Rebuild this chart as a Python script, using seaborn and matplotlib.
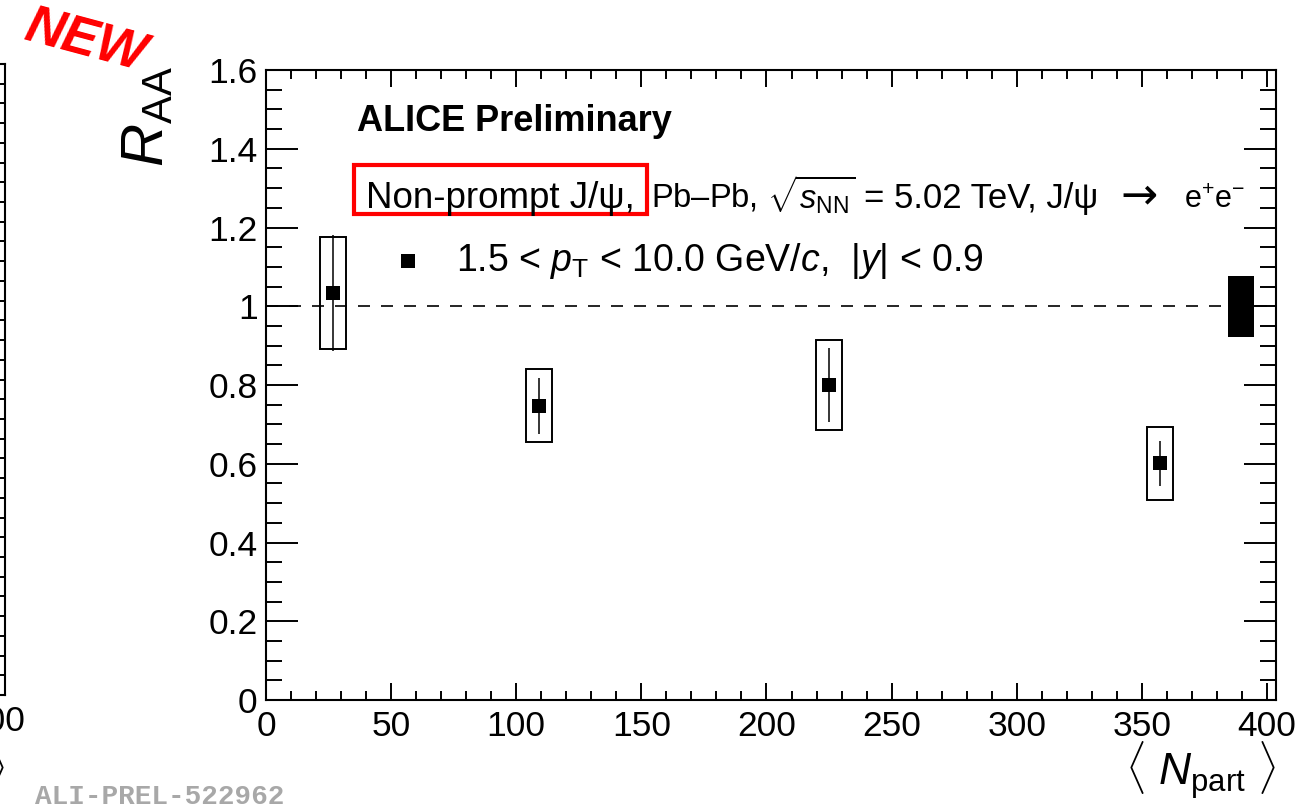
import numpy as np
import pandas as pd
import matplotlib
matplotlib.use("Agg")
import matplotlib.pyplot as plt
import seaborn as sns
from matplotlib.patches import Rectangle
from matplotlib.ticker import MultipleLocator

# ---------------- data ----------------
npart = [26.9, 109.0, 224.8, 357.2]
raa = [1.034, 0.747, 0.800, 0.601]
stat_err = [0.148, 0.071, 0.093, 0.057]
syst_err = [0.143, 0.093, 0.115, 0.092]
global_x = [389.7]
global_unc = [0.078]
xtick_vals = [0, 50, 100, 150, 200, 250, 300, 350, 400]
xtick_labels = ["0", "50", "100", "150", "200", "250", "300", "350", "400"]
ytick_vals = [0, 0.2, 0.4, 0.6, 0.8, 1.0, 1.2, 1.4, 1.6]
ytick_labels = ["0", "0.2", "0.4", "0.6", "0.8", "1", "1.2", "1.4", "1.6"]

legend_label = r"1.5 < $p_{\rm T}$ < 10.0 GeV/$c$,  |$y$| < 0.9"
header_boxed = "Non-prompt J/ψ,"
header_system = r"Pb–Pb, $\sqrt{s_{\rm NN}}$"
header_energy = "= 5.02 TeV, J/ψ"
header_arrow = "→"
header_decay = r"e$^{+}$e$^{-}$"

df = pd.DataFrame({"npart": npart, "raa": raa, "stat": stat_err, "syst": syst_err})

# ---------------- style ----------------
sns.set_theme(style="ticks")
plt.rcParams["font.family"] = ["Liberation Sans", "DejaVu Sans"]
plt.rcParams["mathtext.fontset"] = "custom"
plt.rcParams["mathtext.rm"] = "Liberation Sans"
plt.rcParams["mathtext.it"] = "Liberation Sans:italic"
plt.rcParams["mathtext.bf"] = "Liberation Sans:bold"
plt.rcParams["axes.edgecolor"] = "black"
plt.rcParams["text.color"] = "black"

W, H = 1302, 807
fig = plt.figure(figsize=(W / 100, H / 100), dpi=100)
fig.patch.set_facecolor("white")


def px_axes(l, t, r, b):
    return fig.add_axes([l / W, 1 - b / H, (r - l) / W, (b - t) / H])


def style_axes(a):
    a.set_xlim(0, 403.6)
    a.set_ylim(0, 1.6)
    a.set_xticks(xtick_vals, xtick_labels)
    a.set_yticks(ytick_vals, ytick_labels)
    a.xaxis.set_minor_locator(MultipleLocator(10))
    a.yaxis.set_minor_locator(MultipleLocator(0.05))
    a.tick_params(axis="both", which="both", direction="in", top=True, right=True,
                  width=1.4, color="black", labelcolor="black")
    a.tick_params(axis="x", which="major", length=12.2, pad=7, labelsize=25.5)
    a.tick_params(axis="x", which="minor", length=6.5)
    a.tick_params(axis="y", which="major", length=23, pad=6, labelsize=25.5)
    a.tick_params(axis="y", which="minor", length=11.5)
    for s in a.spines.values():
        s.set_linewidth(1.5)
        s.set_color("black")
    a.set_facecolor("white")
    a.set_xlabel("")
    a.set_ylabel("")


# partial neighbouring panel on the left (mostly outside the figure)
ax2 = px_axes(5 - 1010, 64, 5, 695)
style_axes(ax2)
ax2.text(1.0, -(740 - 695) / 631, r"$\langle$ $N_{\rm part}$ $\rangle$", transform=ax2.transAxes,
         ha="right", va="top", fontsize=32)

# main panel
ax = px_axes(266, 70, 1276, 700)
style_axes(ax)

ax.plot([0, 400], [1, 1], color="black", lw=1.2, ls=(0, (7.2, 6.6)), zorder=1)

for x, y, s in zip(df["npart"], df["raa"], df["syst"]):
    ax.add_patch(Rectangle((x - 5.2, y - s), 10.4, 2 * s, fill=False,
                           edgecolor="black", lw=1.4, zorder=2))
ax.errorbar(df["npart"], df["raa"], yerr=df["stat"], fmt="none", ecolor="black",
            elinewidth=1.1, capsize=0, zorder=3)
sns.scatterplot(data=df, x="npart", y="raa", marker="s", s=100, color="black",
                edgecolor="black", linewidth=0, ax=ax, zorder=4, label=legend_label)
ax.set_xlabel("")
ax.set_ylabel("")

for gx, gu in zip(global_x, global_unc):
    ax.add_patch(Rectangle((gx - 5.2, 1 - gu), 10.4, 2 * gu, facecolor="black",
                           edgecolor="black", lw=0, zorder=2))

leg = ax.legend(loc="center left", bbox_to_anchor=(391 / W, 1 - 261 / H),
                bbox_transform=fig.transFigure, frameon=False, fontsize=27,
                handlelength=0.93, handletextpad=0.8, borderpad=0, borderaxespad=0,
                markerscale=1.0)

# texts
fig.text(357 / W, 1 - 131 / H, "ALICE Preliminary", fontsize=26, fontweight="bold",
         ha="left", va="baseline")
base = 1 - 208 / H
fig.text(366 / W, base, header_boxed, fontsize=26.5, ha="left", va="baseline")
fig.text(651 / W, base, header_system, fontsize=23.5, ha="left", va="baseline")
fig.text(864 / W, base, header_energy, fontsize=25, ha="left", va="baseline")
fig.text(1120 / W, base, header_arrow, fontsize=32, ha="left", va="baseline",
         family=["DejaVu Sans"])
fig.text(1184 / W, base, header_decay, fontsize=22, ha="left", va="baseline")
fig.add_artist(Rectangle((354 / W, 1 - 214 / H), 293 / W, 49 / H, transform=fig.transFigure,
                         fill=False, edgecolor="#FF0000", lw=3.0))

fig.text(148 / W, 1 - 66 / H, r"$R_{\rm AA}$", rotation=90, ha="center", va="top", fontsize=43)
fig.text(1276 / W, 1 - 740 / H, r"$\langle$ $N_{\rm part}$ $\rangle$", ha="right", va="top",
         fontsize=32)

fig.text(85 / W, 1 - 41 / H, "NEW", color="#FF0000", fontsize=38, fontweight="bold",
         fontstyle="italic", rotation=-15, ha="center", va="center")

fig.text(35 / W, 1 - 804 / H, "ALI-PREL-522962", family="Liberation Mono", fontweight="bold",
         color="#A8A8A8", fontsize=20, ha="left", va="baseline")

fig.savefig("out.png", dpi=100, facecolor="white")
